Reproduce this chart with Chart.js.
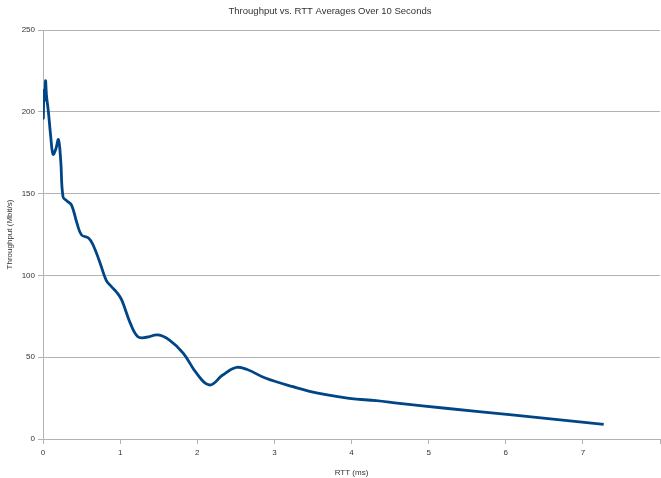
<!DOCTYPE html>
<html>
<head>
<meta charset="utf-8">
<script src="https://cdn.jsdelivr.net/npm/chart.js@4/dist/chart.umd.min.js"></script>
<style>
  html, body { margin: 0; padding: 0; background: #ffffff; }
  #wrap { width: 661px; height: 478px; }
</style>
</head>
<body>
<div id="wrap"><canvas id="c" width="661" height="478"></canvas></div>
<script>
// RTT in milliseconds (x) and the 10-second average throughput in Mbit/s (y)
const rttMs = [
  0.000, 0.004, 0.012, 0.022, 0.033, 0.045, 0.07, 0.10, 0.13, 0.165,
  0.20, 0.23, 0.26, 0.31, 0.37, 0.44, 0.50, 0.59, 0.65, 0.74,
  0.82, 0.89, 0.95, 1.02, 1.13, 1.23, 1.34, 1.49, 1.64, 1.82,
  1.99, 2.16, 2.33, 2.50, 2.64, 2.89, 3.24, 3.58, 3.97, 4.32,
  4.62, 5.22, 6.08, 7.27
];
const throughputMbps = [
  214, 196, 213, 207, 219, 210, 200, 185, 174, 177,
  183, 170, 148, 145.5, 143, 132, 124.7, 122.9, 118.6, 107.6,
  97, 93, 90, 85, 71, 62.5, 62.2, 63.6, 60.5, 52.4,
  40.2, 33, 39.1, 43.7, 42.6, 37.1, 32, 27.9, 24.9, 23.4,
  21.8, 18.8, 14.7, 9.0
];
const xTicks = [0, 1, 2, 3, 4, 5, 6, 7, 8];
const yTicks = [0, 50, 100, 150, 200, 250];

const points = rttMs.map((x, i) => ({ x: x, y: throughputMbps[i] }));
const FONT = '"Liberation Sans", Arial, sans-serif';

new Chart(document.getElementById('c'), {
  type: 'line',
  data: {
    datasets: [{
      label: 'Throughput',
      data: points,
      borderColor: '#004586',
      borderWidth: 2.8,
      pointRadius: 0,
      tension: 0.4,
      fill: false
    }]
  },
  options: {
    responsive: false,
    animation: false,
    layout: { autoPadding: false, padding: { left: 0, right: 1, top: 0, bottom: 0 } },
    plugins: {
      legend: { display: false },
      tooltip: { enabled: false },
      title: {
        display: true,
        text: 'Throughput vs. RTT Averages Over 10 Seconds',
        color: '#333333',
        font: { family: FONT, size: 9.5, weight: 'normal' },
        padding: { top: 6, bottom: 12.6 }
      }
    },
    scales: {
      x: {
        type: 'linear',
        min: 0,
        max: 8,
        afterBuildTicks: (s) => { s.ticks = xTicks.map(v => ({ value: v })); },
        afterFit: (s) => { s.height = 39; s.paddingRight = 0; },
        ticks: {
          color: '#333333',
          font: { family: FONT, size: 8 },
          padding: 4,
          maxRotation: 0,
          callback: (v) => (v === 8 ? '' : String(v))
        },
        grid: {
          drawOnChartArea: false,
          drawTicks: true,
          tickLength: 5,
          color: '#b3b3b3'
        },
        border: { display: true, color: '#b3b3b3' },
        title: {
          display: true,
          text: 'RTT (ms)',
          color: '#333333',
          font: { family: FONT, size: 8 },
          padding: { top: 6, bottom: 0 }
        }
      },
      y: {
        type: 'linear',
        min: 0,
        max: 250,
        afterBuildTicks: (s) => { s.ticks = yTicks.map(v => ({ value: v })); },
        afterFit: (s) => { s.width = 43; },
        ticks: {
          color: '#333333',
          font: { family: FONT, size: 8 },
          padding: 3
        },
        grid: {
          drawOnChartArea: true,
          drawTicks: true,
          tickLength: 5,
          color: '#b3b3b3'
        },
        border: { display: true, color: '#b3b3b3' },
        title: {
          display: true,
          text: 'Throughput (Mbit/s)',
          color: '#333333',
          font: { family: FONT, size: 8 },
          padding: { top: 5, bottom: 2 }
        }
      }
    }
  }
});
</script>
</body>
</html>
